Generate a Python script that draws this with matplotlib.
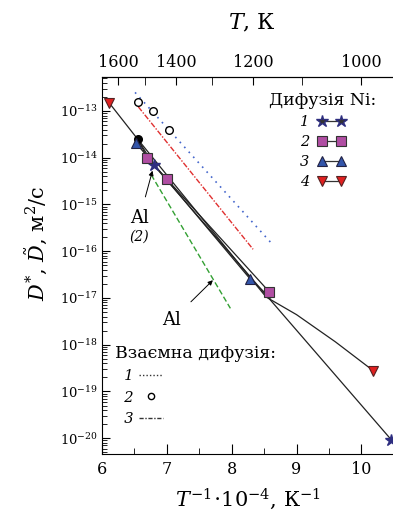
import matplotlib
matplotlib.use("Agg")
import matplotlib.pyplot as plt
from matplotlib.lines import Line2D
from matplotlib.ticker import LogLocator, FixedLocator, NullFormatter
import numpy as np

plt.rcParams['font.family'] = ['DejaVu Serif']
plt.rcParams['mathtext.fontset'] = 'dejavuserif'

# Ni tracer diffusion, series 1..4 (x = 1e4/T, y = D in m^2/s)
s1_x = [6.80, 10.46]
s1_y = [6.9e-15, 9.3e-21]
s2_x = [6.70, 7.00, 8.58]
s2_y = [1.0e-14, 3.5e-15, 1.35e-17]
s3_x = [6.52, 8.29]
s3_y = [2.1e-14, 2.5e-17]
s4_x = [6.11, 10.18]
s4_y = [1.5e-13, 2.8e-19]

# fitted curves drawn through the points
s1_fit_x = [6.55, 6.80, 10.46]
s1_fit_y = [2.5e-14, 6.9e-15, 9.3e-21]
s2_fit_x = [6.55, 6.70, 7.00, 8.58]
s2_fit_y = [2.5e-14, 1.0e-14, 3.5e-15, 1.35e-17]
s3_fit_x = [6.52, 8.29, 8.60]
s3_fit_y = [2.1e-14, 2.5e-17, 1.0e-17]
s4_fit_x = [6.11, 6.55, 8.53, 9.00, 9.60, 10.18]
s4_fit_y = [1.5e-13, 2.5e-14, 1.05e-17, 4.4e-18, 1.15e-18, 2.8e-19]

extra_x = [6.55]
extra_y = [2.5e-14]

# interdiffusion
mut1_x = [6.51, 8.61]
mut1_y = [2.5e-13, 1.5e-16]
mut2_x = [6.56, 6.78, 7.03]
mut2_y = [1.55e-13, 1.02e-13, 3.9e-14]
mut3_x = [6.56, 8.33]
mut3_y = [1.23e-13, 1.1e-16]

# Al
al_x = [6.76, 7.98]
al_y = [4.3e-15, 6.0e-18]

temp_major = [1600, 1400, 1200, 1000]
temp_minor = [1500, 1300, 1100]

fig = plt.figure(figsize=(3.93, 5.16), dpi=100)
ax = fig.add_axes([0.2595, 0.12, 0.7425, 0.731])

ax.plot(mut1_x, mut1_y, ls=(0, (1, 3)), color='#4466cc', lw=1.2)
ax.plot(mut3_x, mut3_y, ls=(0, (4, 1.2, 1, 1.2)), color='#e03030', lw=1.0)
ax.plot(al_x, al_y, ls=(0, (4, 2)), color='#33a033', lw=1.0)
ax.plot(mut2_x, mut2_y, 'o', mfc='white', mec='k', ms=5.5, mew=1.0)

for fx, fy in [(s1_fit_x, s1_fit_y), (s2_fit_x, s2_fit_y),
               (s3_fit_x, s3_fit_y), (s4_fit_x, s4_fit_y)]:
    ax.plot(fx, fy, color='#222222', lw=0.9)

ax.plot(extra_x, extra_y, 'o', color='k', ms=5.5)

st1 = dict(marker='*', color='#2e2e80', ms=9, mec='#2e2e80')
st2 = dict(marker='s', mfc='#b04ea3', mec='#333333', ms=6.5, mew=0.8, color='#333333')
st3 = dict(marker='^', mfc='#3355aa', mec='#222244', ms=6.5, mew=0.8, color='#333333')
st4 = dict(marker='v', mfc='#e02020', mec='#552222', ms=6.5, mew=0.8, color='#333333')

ax.plot(s1_x, s1_y, ls='none', **st1)
ax.plot(s2_x, s2_y, ls='none', **st2)
ax.plot(s3_x, s3_y, ls='none', **st3)
ax.plot(s4_x, s4_y, ls='none', **st4)

ax.set_yscale('log')
ax.set_xlim(6, 10.5)
ax.set_ylim(10 ** -20.34, 10 ** -12.27)

ax.set_xticks([6, 7, 8, 9, 10])
ax.set_xticks(np.arange(6.5, 10.5, 1.0), minor=True)
ax.yaxis.set_major_locator(LogLocator(base=10, numticks=20))
ax.yaxis.set_minor_locator(LogLocator(base=10, subs=np.arange(2, 10), numticks=100))
ax.yaxis.set_minor_formatter(NullFormatter())

ax.tick_params(axis='both', which='both', direction='in')
ax.tick_params(axis='x', which='major', length=7, labelsize=11.5, pad=5)
ax.tick_params(axis='x', which='minor', length=4)
ax.tick_params(axis='y', which='major', length=6, labelsize=9.5, pad=3)
ax.tick_params(axis='y', which='minor', length=3.5)
ax.tick_params(top=False, right=False, which='both')
ax.spines['right'].set_visible(False)

top = ax.secondary_xaxis('top', functions=(lambda x: 1e4 / x, lambda t: 1e4 / t))
top.xaxis.set_major_locator(FixedLocator(temp_major))
top.xaxis.set_minor_locator(FixedLocator(temp_minor))
top.tick_params(axis='x', which='both', direction='in', length=6, labelsize=11.5, pad=4)

ax.set_xlabel(r'$T^{-1}\!\cdot\!10^{-4}$, К$^{-1}$', fontsize=15)
ax.xaxis.set_label_coords(0.5, -0.085)
ax.set_ylabel(r'$D^{*}$, $\tilde{D}$, м$^{2}$/с', fontsize=15)
ax.yaxis.set_label_coords(-0.18, 0.56)
fig.text(0.64, 0.955, r'$T$, К', fontsize=16, ha='center', va='center')

ax.annotate('Al', xy=(6.79, 10 ** -14.22), xytext=(6.58, 10 ** -15.29),
            fontsize=13, ha='center', va='center',
            arrowprops=dict(arrowstyle='-|>', color='k', lw=0.7, mutation_scale=7,
                            shrinkA=7, shrinkB=2))
ax.text(6.58, 10 ** -15.68, '(2)', fontsize=10, style='italic', ha='center', va='center')
ax.annotate('Al', xy=(7.71, 10 ** -16.62), xytext=(7.08, 10 ** -17.48),
            fontsize=13, ha='center', va='center',
            arrowprops=dict(arrowstyle='-|>', color='k', lw=0.7, mutation_scale=7,
                            shrinkA=7, shrinkB=0))

h1 = [Line2D([], [], **st1, lw=0.9),
      Line2D([], [], **st2, lw=0.9),
      Line2D([], [], **st3, lw=0.9),
      Line2D([], [], **st4, lw=0.9)]
for h in h1:
    h.set_color('#333333')
leg1 = ax.legend(h1, ['1', '2', '3', '4'], title='Дифузія Ni:', loc='upper right',
                 bbox_to_anchor=(0.985, 0.995), frameon=False, markerfirst=False,
                 numpoints=2, handlelength=1.9, fontsize=10.5, title_fontsize=12.5,
                 labelspacing=0.42, handletextpad=0.6)
for t in leg1.get_texts():
    t.set_style('italic')
ax.add_artist(leg1)

h2 = [Line2D([], [], ls=(0, (1, 1.5)), color='#333333', lw=1.0),
      Line2D([], [], ls='none', marker='o', mfc='white', mec='k', ms=4.5, mew=1.0),
      Line2D([], [], ls=(0, (3, 1.2, 1, 1.2)), color='#333333', lw=1.0)]
leg2 = ax.legend(h2, ['  1', '  2', '  3'], title='Взаємна дифузія:', loc='lower left',
                 bbox_to_anchor=(0.0, 0.04), frameon=False, alignment='left',
                 handlelength=1.6, fontsize=10.5, title_fontsize=12.5,
                 labelspacing=0.5, handletextpad=0.4, markerfirst=False)
for t in leg2.get_texts():
    t.set_style('italic')

fig.savefig('out.png', dpi=100)
